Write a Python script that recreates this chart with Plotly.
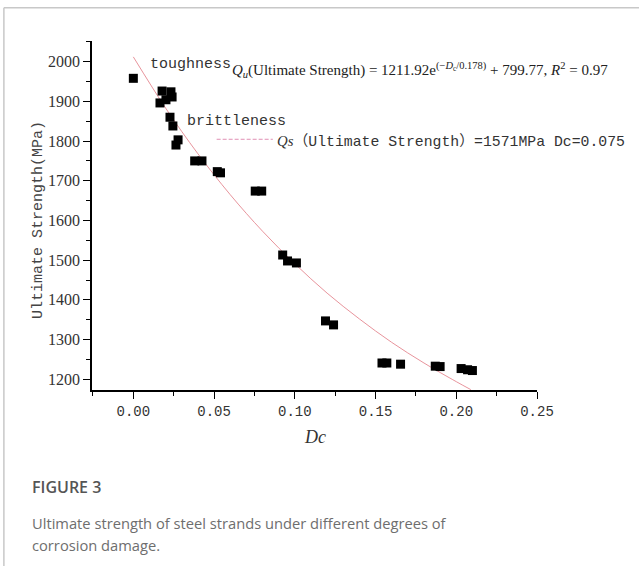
import plotly.graph_objects as go

# ---- data ----
dc_points = [0.000, 0.0178, 0.0233, 0.0240, 0.0202, 0.0165, 0.0227, 0.0245,
             0.0277, 0.0264, 0.0380, 0.0425, 0.0520, 0.0540, 0.0755, 0.0795,
             0.0925, 0.0955, 0.1010, 0.1190, 0.1240, 0.1540, 0.1570, 0.1655,
             0.1870, 0.1900, 0.2030, 0.2070, 0.2100]
qu_points = [1958, 1926, 1924, 1911, 1904, 1896, 1860, 1838,
             1803, 1790, 1750, 1750, 1723, 1720, 1674, 1674,
             1513, 1498, 1493, 1347, 1337, 1241, 1241, 1238,
             1233, 1232, 1227, 1224, 1222]

# fitted curve
dc_fit = [0.00, 0.02, 0.04, 0.06, 0.08, 0.10, 0.12, 0.14, 0.16, 0.18, 0.20, 0.209]
qu_fit = [2012, 1883, 1768, 1665, 1573, 1491, 1417, 1352, 1293, 1241, 1194, 1174]

x_ticks = [0.00, 0.05, 0.10, 0.15, 0.20, 0.25]
y_ticks = [1200, 1300, 1400, 1500, 1600, 1700, 1800, 1900, 2000]

SERIF = "Liberation Serif"
MONO = "Liberation Mono"

fig = go.Figure()
fig.add_trace(go.Scatter(x=dc_fit, y=qu_fit, mode="lines", line_shape="spline",
                         line=dict(color="#e8949c", width=1), hoverinfo="skip",
                         showlegend=False))
fig.add_trace(go.Scatter(x=dc_points, y=qu_points, mode="markers",
                         marker=dict(symbol="square", size=9, color="black",
                                     line=dict(width=0)),
                         showlegend=False))

axis_common = dict(showgrid=False, zeroline=False, showline=True, linecolor="black",
                   linewidth=1.5, ticks="outside", tickcolor="black", tickwidth=1.2,
                   ticklen=7)

fig.update_xaxes(**axis_common, range=[-0.0256, 0.25], tickvals=x_ticks,
                 ticktext=[f"{v:.2f}" for v in x_ticks],
                 tickfont=dict(family=MONO, size=14, color="#333"),
                 minor=dict(dtick=0.025, tick0=0, ticks="outside", ticklen=4,
                            tickcolor="black", tickwidth=1.2))
fig.update_yaxes(**axis_common, range=[1173, 2052], tickvals=y_ticks,
                 tickfont=dict(family=SERIF, size=16, color="#333"),
                 minor=dict(dtick=50, tick0=1200, ticks="outside", ticklen=4,
                            tickcolor="black", tickwidth=1.2))

annotations = [
    dict(x=-0.1213, y=0.487, xref="paper", yref="paper", xanchor="center", yanchor="middle",
         text="Ultimate Strength(MPa)", textangle=-90, showarrow=False,
         font=dict(family=MONO, size=15, color="#444")),
    dict(x=0.5, y=-0.135, xref="paper", yref="paper", xanchor="center", yanchor="middle",
         text="<i>Dc</i>", showarrow=False, font=dict(family=SERIF, size=18, color="#333")),
    dict(x=0.0091, y=1994, xref="x", yref="y", xanchor="left", yanchor="middle",
         text="toughness", showarrow=False, font=dict(family=MONO, size=15, color="#333")),
    dict(x=0.060, y=1980, xref="x", yref="y", xanchor="left", yanchor="middle",
         text="<i>Q</i><sub><i>u</i></sub>(Ultimate Strength) = 1211.92e"
              "<sup>(−<i>D</i><sub>c</sub>/0.178)</sup> + 799.77, <i>R</i><sup>2</sup> = 0.97",
         showarrow=False, font=dict(family=SERIF, size=15, color="#222")),
    dict(x=0.032, y=1849, xref="x", yref="y", xanchor="left", yanchor="middle",
         text="brittleness", showarrow=False, font=dict(family=MONO, size=15, color="#333")),
    dict(x=0.0880, y=1803, xref="x", yref="y", xanchor="left", yanchor="middle",
         text="<span style='font-family:Liberation Serif'><i>Qs</i></span>"
              "<span style='font-family:Noto Sans CJK SC'>（</span>Ultimate Strength"
              "<span style='font-family:Noto Sans CJK SC'>）</span>=1571MPa Dc=0.075",
         showarrow=False, font=dict(family=MONO, size=14.8, color="#333")),
    dict(x=-0.1393, y=-0.278, xref="paper", yref="paper", xanchor="left", yanchor="middle",
         text="FIGURE 3", showarrow=False,
         font=dict(family="Open Sans", size=16, color="#555", weight=600)),
    dict(x=-0.1393, y=-0.381, xref="paper", yref="paper", xanchor="left", yanchor="middle",
         text="Ultimate strength of steel strands under different degrees of",
         showarrow=False, font=dict(family="Open Sans", size=14.7, color="#6e6e6e")),
    dict(x=-0.1393, y=-0.444, xref="paper", yref="paper", xanchor="left", yanchor="middle",
         text="corrosion damage.",
         showarrow=False, font=dict(family="Open Sans", size=14.7, color="#6e6e6e")),
]

shapes = [
    # dashed connector before the Qs label
    dict(type="line", xref="x", yref="y", x0=0.0516, x1=0.0864, y0=1804.5, y1=1804.5,
         line=dict(color="#e090b4", width=1, dash="4px,2px")),
    # card frame (top and left edges)
    dict(type="line", xref="paper", yref="paper", x0=-0.198, x1=1.25, y0=1.0954, y1=1.0954,
         line=dict(color="#c8c8c8", width=1.5)),
    dict(type="line", xref="paper", yref="paper", x0=-0.198, x1=-0.198, y0=1.0954, y1=-0.52,
         line=dict(color="#c8c8c8", width=1.5)),
]

fig.update_layout(width=639, height=566, margin=dict(l=92, r=102, t=41, b=176),
                  plot_bgcolor="white", paper_bgcolor="white",
                  annotations=annotations, shapes=shapes, showlegend=False)

fig.write_html("out.html", config={"displayModeBar": False},
               post_script="document.body.style.margin='0';")
